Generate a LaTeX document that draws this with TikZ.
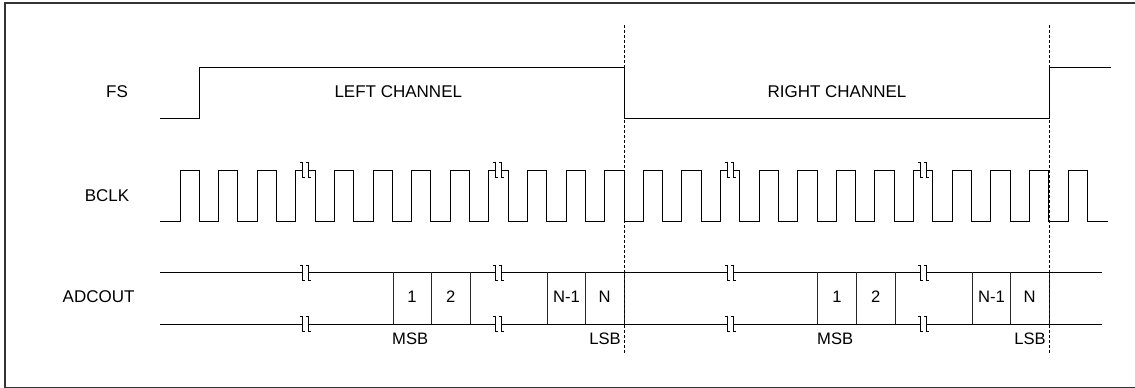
\documentclass[tikz,border=0pt]{standalone}
\usepackage{fontspec}
\setmainfont{Liberation Sans}
\begin{document}
\begin{tikzpicture}[x=1pt,y=-1pt,
  lbl/.style={inner sep=0pt,font=\fontsize{17}{20}\selectfont},
  sml/.style={inner sep=0pt,font=\fontsize{16.6}{20}\selectfont},
  sig/.style={line width=1pt,black},
  cell/.style={line width=0.9pt,black!85},
  guide/.style={line width=0.8pt,black,dash pattern=on 3pt off 2pt},
  frame/.style={line width=1.6pt,black!80},
  brk/.pic={
    \fill[white] (-2.6,-5) rectangle (2.6,5);
    \draw[line width=0.6pt,black] (-5.5,-7.5) -- (-3,-7.5) -- (-3,7.5) -- (-0.8,7.5);
    \draw[line width=0.6pt,black] (0.8,-7.5) -- (3,-7.5) -- (3,7.5) -- (5.5,7.5);
  }]
\useasboundingbox (0,0) rectangle (1135,388);
\clip (0,0) rectangle (1135,388);
\draw[frame] (5,3) rectangle (1145,387.5);

% labels
\node[lbl] (fs) at (117,92) {FS};
\node[lbl] (bclk) at (107,196) {BCLK};
\node[lbl] (adc) at (98.6,297) {ADCOUT};
\node[lbl] (lch) at (398.3,92) {LEFT CHANNEL};
\node[lbl] (rch) at (837,92) {RIGHT CHANNEL};

% FS
\draw[sig] (160,118) -- (199,118) -- (199,67) -- (624,67) -- (624,118) -- (1049,118) -- (1049,67) -- (1111,67);

% BCLK
\draw[sig] (160,221) foreach \k in {0,...,23} { -- ({180+38.61*\k},221) -- ++(0,-51) -- ++(19.3,0) -- ++(0,51) } -- (1108,221);

% ADCOUT rails
\draw[sig] (160,272) -- (1102,272);
\draw[sig] (160,324) -- (1102,324);
\foreach \xx in {393,431.7,470,547,585.7,624,817.5,856.5,895,972,1010.7,1049}
  \draw[cell] (\xx,272) -- (\xx,324);

% guides
\coordinate (g1t) at (624,25); \coordinate (g1b) at (624,353);
\coordinate (g2t) at (1049,25); \coordinate (g2b) at (1049,353);
\draw[guide] (g1t) -- (g1b);
\draw[guide] (g2t) -- (g2b);

% break marks
\foreach \xx in {305.5,498.5,730.5,923.5} {
  \pic at (\xx,169.5) {brk};
  \pic at (\xx,272.5) {brk};
  \pic at (\xx,323.5) {brk};
}

% cell labels
\node[sml] (l1) at (412,297) {1};
\node[sml] (l2) at (450.8,297) {2};
\node[sml] (ln1) at (566.5,297) {N-1};
\node[sml] (ln) at (604.5,297) {N};
\node[sml,anchor=west] (lmsb) at (392,339) {MSB};
\node[sml,anchor=east] (llsb) at (621,339) {LSB};
\node[sml] (r1) at (837,297) {1};
\node[sml] (r2) at (875.7,297) {2};
\node[sml] (rn1) at (991.5,297) {N-1};
\node[sml] (rn) at (1029.5,297) {N};
\node[sml,anchor=west] (rmsb) at (817,339) {MSB};
\node[sml,anchor=east] (rlsb) at (1046,339) {LSB};
\end{tikzpicture}
\end{document}
